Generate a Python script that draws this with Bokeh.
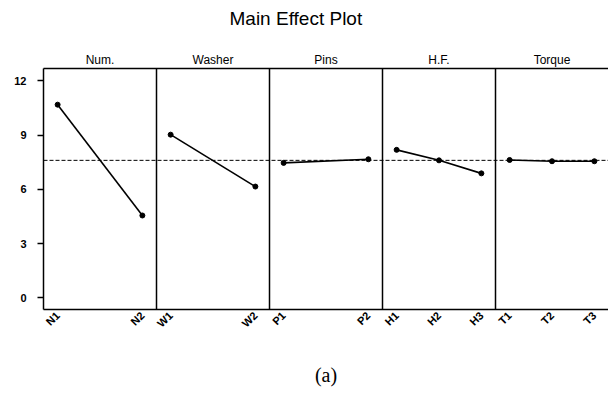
import numpy as np
from bokeh.plotting import figure
from bokeh.models import FixedTicker, LinearAxis, Span, Range1d
from bokeh.embed import file_html
from bokeh.resources import INLINE

# ---- data ----
factors = ["Num.", "Washer", "Pins", "H.F.", "Torque"]
num_levels = ["N1", "N2"]
num_means = [10.68, 4.55]
washer_levels = ["W1", "W2"]
washer_means = [9.02, 6.15]
pins_levels = ["P1", "P2"]
pins_means = [7.46, 7.66]
hf_levels = ["H1", "H2", "H3"]
hf_means = [8.18, 7.60, 6.88]
torque_levels = ["T1", "T2", "T3"]
torque_means = [7.62, 7.55, 7.55]
grand_mean = 7.6
y_ticks = [0, 3, 6, 9, 12]

panel_levels = [num_levels, washer_levels, pins_levels, hf_levels, torque_levels]
panel_means = [num_means, washer_means, pins_means, hf_means, torque_means]

PAD = 0.125


def level_positions(k, n):
    return [k + PAD + i * (1 - 2 * PAD) / (n - 1) for i in range(n)]


p = figure(width=608, height=395,
           x_range=Range1d(0, len(factors)), y_range=Range1d(-0.65, 12.68),
           output_backend="svg", toolbar_location=None,
           min_border_left=43, min_border_right=0,
           min_border_top=68, min_border_bottom=86)

# trailing blank line lifts the title text higher above the strips
p.title.text = "Main Effect Plot\n "
p.title.align = "left"
p.title.offset = 186
p.title.standoff = 0
p.title.text_font = "Liberation Sans"
p.title.text_font_size = "19px"
p.title.text_font_style = "normal"
p.title.text_color = "black"

p.xgrid.visible = False
p.ygrid.visible = False
p.outline_line_color = None
p.background_fill_color = "white"
p.border_fill_color = "white"

# dividers between panels
for k in range(1, len(factors)):
    p.add_layout(Span(location=k, dimension="height", line_color="black", line_width=1.5))

# grand mean reference line
p.add_layout(Span(location=grand_mean, dimension="width", line_color="black",
                  line_width=1, line_dash="4 2"))

all_x = []
all_labels = []
for k, (levels, means) in enumerate(zip(panel_levels, panel_means)):
    xs = level_positions(k, len(levels))
    all_x += xs
    all_labels += levels
    p.line(xs, means, line_color="black", line_width=1.6)
    p.scatter(xs, means, size=5, color="black")

# bottom axis: level labels
xa = p.xaxis[0]
xa.ticker = FixedTicker(ticks=all_x)
xa.major_label_overrides = {x: lab for x, lab in zip(all_x, all_labels)}
xa.major_label_orientation = 0.7854
xa.major_tick_out = 0
xa.major_tick_in = 0
xa.minor_tick_out = 0
xa.minor_tick_in = 0
xa.axis_line_color = "black"
xa.axis_line_width = 1.5
xa.major_label_standoff = 4
xa.major_label_text_font = "Liberation Sans"
xa.major_label_text_font_size = "11px"
xa.major_label_text_font_style = "bold"
xa.major_label_text_color = "black"
xa.axis_label = "(a)"
xa.axis_label_text_font = "Liberation Serif"
xa.axis_label_text_font_style = "normal"
xa.axis_label_text_font_size = "20px"
xa.axis_label_text_color = "black"
xa.axis_label_standoff = 27

# left axis
ya = p.yaxis[0]
ya.ticker = FixedTicker(ticks=y_ticks)
ya.major_tick_out = 6
ya.major_tick_in = 0
ya.minor_tick_out = 0
ya.minor_tick_in = 0
ya.major_tick_line_width = 1.5
ya.major_tick_line_color = "black"
ya.axis_line_color = "black"
ya.axis_line_width = 1.5
ya.major_label_standoff = 11
ya.major_label_text_font = "Liberation Sans"
ya.major_label_text_font_size = "11px"
ya.major_label_text_font_style = "bold"
ya.major_label_text_color = "black"

# top axis: factor strip labels
centers = [k + 0.5 for k in range(len(factors))]
top = LinearAxis(ticker=FixedTicker(ticks=centers),
                 major_label_overrides={c: f for c, f in zip(centers, factors)},
                 major_tick_out=0, major_tick_in=0, minor_tick_out=0, minor_tick_in=0,
                 axis_line_color="black", axis_line_width=1.5, major_label_standoff=2,
                 major_label_text_font="Liberation Sans",
                 major_label_text_font_size="12px",
                 major_label_text_color="black")
p.add_layout(top, "above")

open("out.html", "w").write(file_html(p, INLINE))
